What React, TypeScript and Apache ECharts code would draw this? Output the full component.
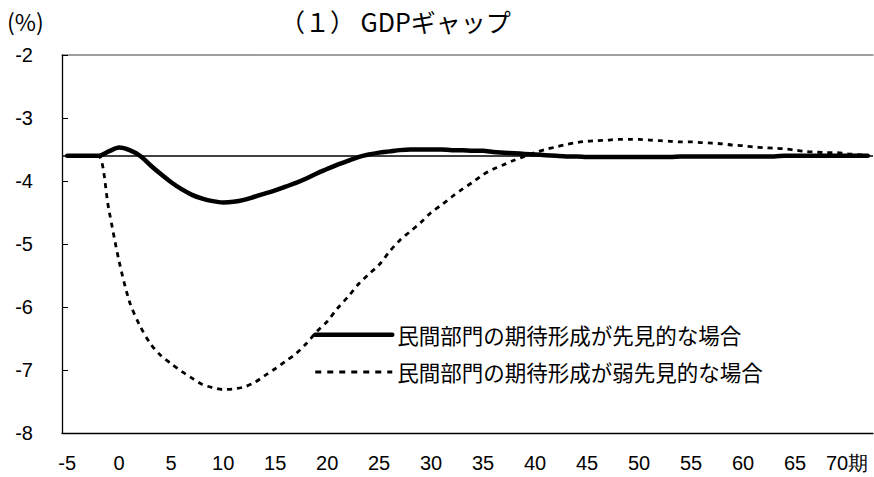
import React, { useEffect, useRef } from "react";
import * as echarts from "echarts";

const periods: string[] = Array.from({ length: 78 }, (_, i) => String(i - 5));

const forwardLooking: number[] = [
  -3.6, -3.6, -3.6, -3.6, -3.53, -3.47, -3.51, -3.6, -3.75, -3.89,
  -4.02, -4.13, -4.22, -4.28, -4.32, -4.34, -4.33, -4.3, -4.25, -4.2,
  -4.15, -4.09, -4.03, -3.96, -3.88, -3.81, -3.74, -3.68, -3.62, -3.58,
  -3.55, -3.53, -3.51, -3.5, -3.5, -3.5, -3.5, -3.51, -3.51, -3.52,
  -3.52, -3.54, -3.55, -3.56, -3.57, -3.58, -3.59, -3.6, -3.61, -3.61,
  -3.62, -3.62, -3.62, -3.62, -3.62, -3.62, -3.62, -3.62, -3.62, -3.61,
  -3.61, -3.61, -3.61, -3.61, -3.61, -3.61, -3.61, -3.61, -3.61, -3.6,
  -3.6, -3.6, -3.6, -3.6, -3.6, -3.6, -3.6, -3.6,
];

const weakForwardLooking: number[] = [
  -3.6, -3.6, -3.6, -3.6, -4.45, -5.28, -5.92, -6.3, -6.58, -6.77,
  -6.9, -7.02, -7.13, -7.23, -7.28, -7.31, -7.3, -7.27, -7.2, -7.09,
  -6.98, -6.86, -6.74, -6.58, -6.39, -6.23, -6.02, -5.84, -5.64, -5.48,
  -5.33, -5.12, -4.94, -4.8, -4.66, -4.5, -4.38, -4.25, -4.13, -4.02,
  -3.9, -3.81, -3.74, -3.67, -3.61, -3.55, -3.5, -3.46, -3.42, -3.39,
  -3.37, -3.36, -3.35, -3.34, -3.34, -3.34, -3.35, -3.36, -3.37, -3.38,
  -3.38, -3.39, -3.4, -3.41, -3.43, -3.44, -3.46, -3.47, -3.48, -3.49,
  -3.51, -3.53, -3.54, -3.55, -3.55, -3.57, -3.58, -3.59,
];

const baseline = -3.6;
const seriesNames = ["民間部門の期待形成が先見的な場合", "民間部門の期待形成が弱先見的な場合"];
const titleText = "（１） GDPギャップ";
const unitText = "(%)";
const lastLabelSuffix = "期";

const JP = '"Noto Sans CJK JP", sans-serif';
const NUM = '"Liberation Sans", Arial, sans-serif';

export default function App() {
  const ref = useRef<HTMLDivElement>(null);
  useEffect(() => {
    if (!ref.current) return;
    const chart = echarts.init(ref.current, undefined, { renderer: "svg" });
    chart.setOption({
      animation: false,
      backgroundColor: "#ffffff",
      title: {
        text: titleText,
        left: 280,
        top: 8,
        padding: 0,
        textStyle: { fontFamily: JP, fontSize: 25, fontWeight: "normal", color: "#000" },
      },
      graphic: [
        {
          type: "text",
          left: 7,
          top: 9,
          style: { text: unitText, fontFamily: JP, fontSize: 23, fill: "#000" },
        },
      ],
      legend: {
        data: [
          { name: seriesNames[0], lineStyle: { width: 4.5, color: "#000", cap: "round" } },
          { name: seriesNames[1], lineStyle: { width: 3, color: "#000", type: [6, 6] } },
        ],
        orient: "vertical",
        left: 313,
        top: 324,
        padding: 0,
        itemWidth: 77,
        itemHeight: 22,
        itemGap: 15.7,
        itemStyle: { opacity: 0 },
        textStyle: { fontFamily: JP, fontSize: 21.5, color: "#000" },
      },
      grid: { left: 62, right: 1, top: 55, bottom: 44 },
      xAxis: [
        {
          type: "category",
          data: periods,
          boundaryGap: true,
          position: "bottom",
          axisLine: { lineStyle: { color: "#000", width: 1.3 } },
          axisTick: { inside: true, length: 6, interval: 4, lineStyle: { color: "#000" } },
          axisLabel: {
            interval: 4,
            margin: 20,
            fontFamily: NUM,
            fontSize: 20,
            color: "#000",
            formatter: (v: string) => (v === "70" ? v + lastLabelSuffix : v),
          },
          splitLine: { show: false },
        },
        {
          type: "category",
          data: periods,
          boundaryGap: true,
          position: "top",
          axisLine: { lineStyle: { color: "#808080", width: 1.5 } },
          axisTick: { show: false },
          axisLabel: { show: false },
          splitLine: { show: false },
        },
      ],
      yAxis: {
        type: "value",
        min: -8,
        max: -2,
        interval: 1,
        axisLine: { show: true, lineStyle: { color: "#000", width: 1.3 } },
        axisTick: { show: true, inside: true, length: 6, lineStyle: { color: "#000" } },
        axisLabel: { margin: 29, fontFamily: NUM, fontSize: 20, color: "#000" },
        splitLine: { show: false },
      },
      series: [
        {
          name: "base",
          type: "line",
          data: [],
          silent: true,
          markLine: {
            silent: true,
            symbol: ["none", "none"],
            label: { show: false },
            lineStyle: { color: "#000", width: 1.5, type: "solid" },
            data: [{ yAxis: baseline }],
          },
        },
        {
          name: seriesNames[1],
          type: "line",
          data: weakForwardLooking,
          smooth: 0.3,
          symbol: "none",
          lineStyle: { color: "#000", width: 2.8, type: [5, 5] },
          itemStyle: { color: "#000" },
        },
        {
          name: seriesNames[0],
          type: "line",
          data: forwardLooking,
          smooth: 0.3,
          symbol: "none",
          lineStyle: { color: "#000", width: 4.5, cap: "round", join: "round" },
          itemStyle: { color: "#000" },
        },
      ],
    });
    return () => chart.dispose();
  }, []);
  return <div ref={ref} style={{ width: 874, height: 477, position: "absolute", left: 0, top: 0 }} />;
}
